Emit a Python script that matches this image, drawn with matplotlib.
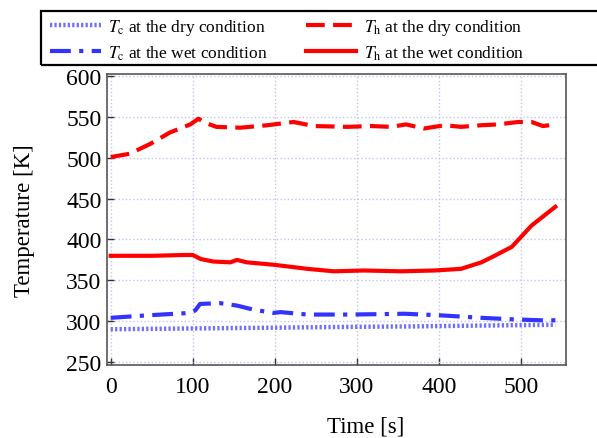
import matplotlib
matplotlib.use('Agg')
import matplotlib.pyplot as plt
from matplotlib.patches import Rectangle

plt.rcParams['font.family'] = ['Liberation Serif', 'DejaVu Serif']
plt.rcParams['mathtext.fontset'] = 'stix'

# time [s] and temperature [K]
t_h_dry = [0, 23, 48, 72, 97, 107, 115, 129, 158, 191, 223, 248, 289, 317, 342, 360, 382, 407, 427, 452, 472, 497, 513, 527, 542]
T_h_dry = [501, 505, 517, 531, 541, 548, 543, 538, 537, 540, 544, 539, 538, 539, 538, 541, 536, 540, 538, 540, 541, 544, 544, 539, 541]

t_h_wet = [0, 50, 90, 100, 110, 125, 146, 154, 166, 199, 240, 272, 309, 354, 395, 427, 452, 468, 489, 513, 542]
T_h_wet = [380, 380, 381, 381, 376, 373, 372, 375, 372, 369, 364, 361, 362, 361, 362, 364, 372, 380, 391, 417, 440]

t_c_wet = [0, 44, 97, 103, 109, 133, 154, 174, 199, 207, 240, 289, 329, 358, 403, 452, 493, 525, 550]
T_c_wet = [304, 307, 310, 313, 321, 322, 319, 314, 310, 311, 308, 308, 308.5, 309, 307, 304, 302, 301, 301]

t_c_dry = [0, 100, 207, 300, 370, 450, 542]
T_c_dry = [290, 291, 292, 293, 293.5, 294.5, 295.5]

fig = plt.figure(figsize=(5.97, 4.39), dpi=100)
ax = fig.add_axes([0.1792, 0.1663, 0.7688, 0.6629])

l1, = ax.plot(t_c_dry, T_c_dry, color='#6f6fff', lw=3.2, linestyle=(0, (0.5, 0.5)))
l2, = ax.plot(t_c_wet, T_c_wet, color='#3333ff', lw=3.0, linestyle=(0, (5, 2, 1, 2)))
l3, = ax.plot(t_h_dry, T_h_dry, color='#ff0000', lw=3.0, linestyle=(0, (4.5, 2)))
l4, = ax.plot(t_h_wet, T_h_wet, color='#ff0000', lw=3.0)

ax.set_xlim(-4.5, 555)
ax.set_ylim(246.2, 602.8)
ax.set_xticks([0, 100, 200, 300, 400, 500])
ax.set_yticks([250, 300, 350, 400, 450, 500, 550, 600])
ax.tick_params(direction='in', length=5, width=1, labelsize=17, color='#333333')
ax.tick_params(axis='x', pad=8)
ax.tick_params(axis='y', pad=4)
ax.grid(True, color='#c4c4f0', linestyle=':', lw=1.0)
for s in ax.spines.values():
    s.set_color('#555555')
    s.set_linewidth(1.2)

ax.set_ylabel('Temperature [K]', fontsize=16.5)
ax.yaxis.set_label_coords(-0.157, 0.5)
ax.set_xlabel('Time [s]', fontsize=16.5)
ax.xaxis.set_label_coords(0.563, -0.175)

leg = fig.legend([l1, l2, l3, l4],
                 ['$T_\\mathrm{c}$ at the dry condition', '$T_\\mathrm{c}$ at the wet condition',
                  '$T_\\mathrm{h}$ at the dry condition', '$T_\\mathrm{h}$ at the wet condition'],
                 ncol=2, loc='upper left', bbox_to_anchor=(45 / 597, 1 - 13 / 439),
                 borderaxespad=0, fontsize=12.5, handlelength=2.9, handletextpad=0.45,
                 columnspacing=2.2, labelspacing=0.35, borderpad=0.3, frameon=False)
# legend frame runs off the right edge in the reference
fig.patches.append(Rectangle((41 / 597, 1 - 66 / 439), 600 / 597, 54 / 439, transform=fig.transFigure,
                             fill=False, edgecolor='black', lw=1.6))

fig.savefig('out.png', dpi=100)
